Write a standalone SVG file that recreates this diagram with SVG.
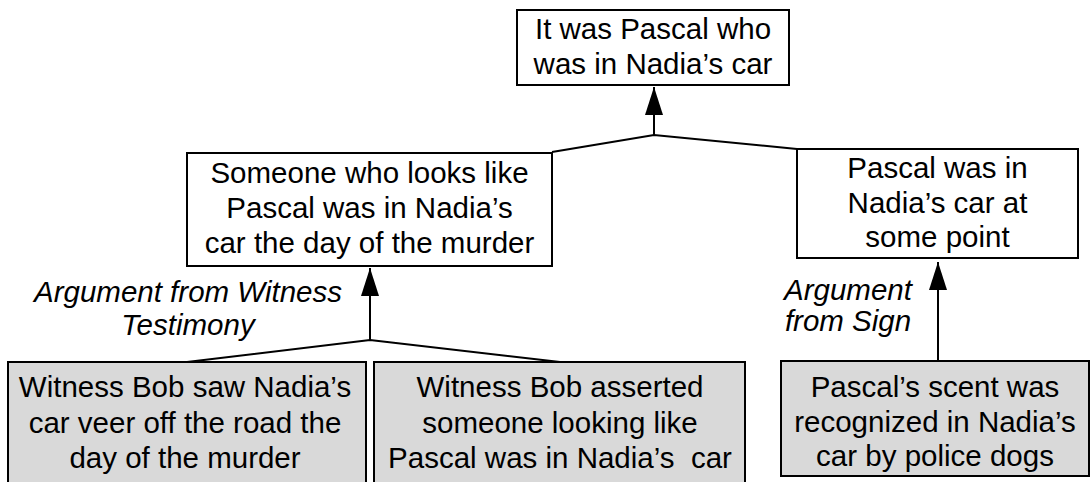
<svg xmlns="http://www.w3.org/2000/svg" width="1091" height="482" viewBox="0 0 1091 482">
<style>
.box{fill:#ffffff;stroke:#000;stroke-width:2}
.prem{fill:#d9d9d9;stroke:#000;stroke-width:2}
.t{font-family:"Liberation Sans",Arial,sans-serif;font-size:29.5px;fill:#000;text-anchor:middle}
.lbl{font-family:"Liberation Sans",Arial,sans-serif;font-size:29.5px;font-style:italic;fill:#000;text-anchor:middle}
.ln{fill:none;stroke:#000;stroke-width:2}
</style>
<defs>
<marker id="ah" markerWidth="20" markerHeight="28" refX="10" refY="0" orient="0" markerUnits="userSpaceOnUse" viewBox="0 0 20 28">
<path d="M10,0 L19,28 L1,28 Z" fill="#000"/>
</marker>
</defs>
<rect width="1091" height="482" fill="#ffffff"/>
<g id="connectors">
<path class="ln" d="M552,152 L654,135 L797,149"/>
<path class="ln" d="M654,135 L654,87" marker-end="url(#ah)"/>
<path class="ln" d="M187,362 L370,340 L560,362"/>
<path class="ln" d="M370,340 L370,268" marker-end="url(#ah)"/>
<path class="ln" d="M938,361 L938,262" marker-end="url(#ah)"/>
</g>
<g id="n-top">
<rect class="box" x="517" y="10" width="272" height="75"/>
<text class="t" x="653" y="39">It was Pascal who</text>
<text class="t" x="653" y="74">was in Nadia’s car</text>
</g>
<g id="n-left">
<rect class="box" x="187" y="153" width="365" height="113"/>
<text class="t" x="369.5" y="183">Someone who looks like</text>
<text class="t" x="369.5" y="218">Pascal was in Nadia’s</text>
<text class="t" x="369.5" y="253">car the day of the murder</text>
</g>
<g id="n-right">
<rect class="box" x="797" y="149" width="281" height="109"/>
<text class="t" x="937.5" y="178">Pascal was in</text>
<text class="t" x="937.5" y="213">Nadia’s car at</text>
<text class="t" x="937.5" y="247">some point</text>
</g>
<g id="label-witness">
<text class="lbl" x="188" y="302">Argument from Witness</text>
<text class="lbl" x="188" y="335">Testimony</text>
</g>
<g id="label-sign">
<text class="lbl" x="848" y="300">Argument</text>
<text class="lbl" x="848" y="331">from Sign</text>
</g>
<g id="n-bob-saw">
<rect class="prem" x="8" y="362" width="358" height="124"/>
<text class="t" x="185" y="397">Witness Bob saw Nadia’s</text>
<text class="t" x="185" y="433">car veer off the road the</text>
<text class="t" x="185" y="468">day of the murder</text>
</g>
<g id="n-bob-asserted">
<rect class="prem" x="374" y="362" width="371" height="124"/>
<text class="t" x="560" y="397">Witness Bob asserted</text>
<text class="t" x="560" y="433">someone looking like</text>
<text class="t" x="560" y="468" xml:space="preserve">Pascal was in Nadia’s  car</text>
</g>
<g id="n-scent">
<rect class="prem" x="781" y="361" width="308" height="115"/>
<text class="t" x="935" y="397">Pascal’s scent was</text>
<text class="t" x="935" y="432">recognized in Nadia’s</text>
<text class="t" x="935" y="466">car by police dogs</text>
</g>
</svg>
